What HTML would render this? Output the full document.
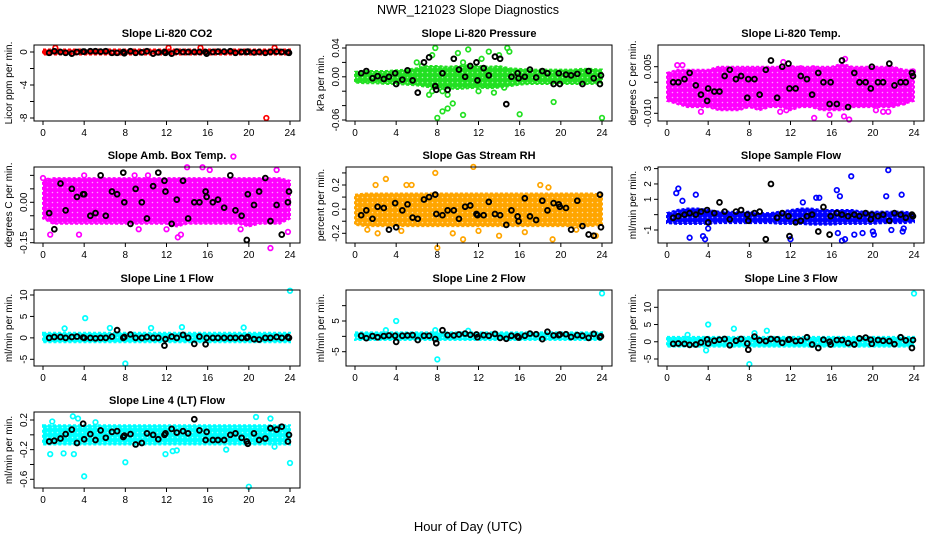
<!DOCTYPE html>
<html><head><meta charset="utf-8"><style>
html,body{margin:0;padding:0;background:#fff;}
svg{display:block;font-family:"Liberation Sans",sans-serif;}
</style></head><body>
<svg id="chart" width="936" height="540" viewBox="0 0 936 540">
<text x="468" y="14" text-anchor="middle" font-size="12.5">NWR_121023  Slope Diagnostics</text>
<text x="468" y="531" text-anchor="middle" font-size="13">Hour of Day (UTC)</text>
</svg>
<script>
const xTicks = [0,4,8,12,16,20,24];
const bandHours = [0,1,2,3,4,5,6,7,8,9,10,11,12,13,14,15,16,17,18,19,20,21,22,23,24];
const blackHours = [0.6,1.1,1.7,2.2,2.8,3.3,3.9,4.0,4.6,5.1,5.6,6.1,6.7,7.2,7.8,7.9,8.5,9.0,9.6,10.1,10.7,11.2,11.8,11.9,12.5,13.0,13.6,14.1,14.7,15.2,15.8,15.9,16.5,17.0,17.6,18.2,18.7,19.3,19.8,19.9,20.5,21.0,21.6,22.1,22.7,23.2,23.8,23.9];

const p1Lo = [-.3,-.3,-.3,-.3,-.3,-.3,-.3,-.3,-.3,-.3,-.3,-.3,-.3,-.3,-.3,-.3,-.3,-.3,-.3,-.3,-.3,-.3,-.3,-.3,-.3];
const p1Hi = [.3,.3,.3,.3,.3,.3,.3,.3,.3,.3,.3,.3,.3,.3,.3,.3,.3,.3,.3,.3,.3,.3,.3,.3,.3];
const p1Out = [[21.7,-8],[1.2,0.5],[12.2,0.5],[15.3,0.5],[22.5,0.5]];
const p1Black = [-0.1,0.1,0,-0.1,-0.2,0,0.05,0.05,0.1,0.1,0.05,0.1,-0.1,-0.1,0,-0.15,0.1,-0.1,-0.05,0.1,-0.2,-0.05,0,-0.1,-0.2,0.05,0,0,0,0,0,-0.2,0,0.05,0.05,0.1,-0.1,0,0,0.05,-0.05,0,-0.1,0,0.05,0,-0.05,-0.1];

const p2Lo = [-.008,-.009,-.009,-.01,-.01,-.011,-.012,-.014,-.016,-.016,-.017,-.016,-.015,-.016,-.015,-.013,-.011,-.01,-.01,-.01,-.01,-.01,-.01,-.01,-.009];
const p2Hi = [.007,.008,.008,.008,.009,.01,.012,.015,.015,.014,.015,.016,.015,.014,.015,.012,.011,.01,.01,.01,.01,.01,.011,.011,.01];
const p2Out = [[7.5,0.03],[7.8,0.04],[7.2,-0.025],[8,-0.057],[8.5,-0.048],[9,-0.044],[9.5,-0.037],[10.5,-0.053],[11,0.038],[9.6,0.025],[10,0.033],[12.3,0.025],[13,0.035],[14,0.03],[14.8,0.04],[15,0.035],[16,-0.052],[19.3,-0.035],[24,-0.057],[6.5,0.015],[7.5,-0.02],[14.5,-0.015],[12,-0.02],[8.5,-0.02],[9,-0.025],[13.5,-0.022],[6,0.02],[10.5,0.02]];
const p2Black = [0.005,0.008,-0.002,0.001,-0.003,0.0,0.005,-0.01,-0.004,0.009,-0.005,-0.022,0.020,0.027,-0.013,-0.018,0.005,-0.018,0.025,0.01,0.0,0.015,0.02,-0.005,0.012,0.002,0.028,0.025,-0.038,0.0,0.005,-0.002,0.0,0.01,-0.001,0.008,0.005,-0.01,0.005,-0.01,0.003,0.002,0.004,-0.010,0.008,-0.002,-0.01,0.002];

const p3Lo = [-.006,-.007,-.008,-.008,-.008,-.009,-.009,-.009,-.008,-.009,-.008,-.008,-.009,-.008,-.008,-.009,-.009,-.009,-.008,-.008,-.008,-.008,-.008,-.007,-.006];
const p3Hi = [.003,.004,.004,.004,.004,.005,.005,.005,.005,.005,.005,.005,.005,.005,.005,.005,.005,.006,.005,.005,.005,.005,.005,.004,.004];
const p3Out = [[11.3,0.0065],[12.2,0.0045],[13,0.0045],[14.2,0.0045],[17.3,0.0075],[23.9,0.0035],[3.3,-0.0095],[11,-0.0095],[11.6,-0.009],[14.3,-0.0115],[15.8,-0.0105],[17.2,-0.011],[17.7,-0.012],[20.3,-0.009],[21,-0.0095],[21.5,-0.0095],[1,0.0055],[1.5,0.0055],[22,-0.006],[23,-0.0065]];
const p3Black = [0.0,0.0,0.001,0.003,-0.001,-0.004,-0.006,-0.002,-0.003,-0.003,0.002,0.004,0.001,0.002,-0.005,0.001,0.001,-0.004,0.004,0.007,-0.005,0.005,0.006,-0.002,-0.002,0.002,0.001,-0.004,0.003,0.0,-0.007,0.0,-0.007,0.007,-0.008,0.003,0.0,0.0,-0.002,0.005,0.0,0.0,0.006,-0.001,0.0,0.0,0.003,0.002];

const p4Lo = [-.06,-.08,-.08,-.08,-.08,-.08,-.08,-.08,-.08,-.08,-.08,-.08,-.08,-.09,-.08,-.08,-.08,-.08,-.08,-.08,-.09,-.08,-.08,-.08,-.06];
const p4Hi = [.08,.09,.09,.09,.09,.09,.09,.09,.09,.09,.09,.09,.09,.09,.09,.09,.09,.09,.09,.09,.09,.09,.09,.09,.08];
const p4Out = [[18.5,0.17],[22.1,-0.17],[13.1,-0.13],[13.4,-0.12],[3.5,-0.12],[0.7,-0.12],[14,0.13],[15.5,0.13],[22.7,0.12],[9.3,-0.1],[19.2,-0.1],[12,-0.1],[4,0.1],[1,-0.07],[0,0.09],[23.8,-0.11],[0.5,0.08],[8.9,0.1],[10.2,0.1],[16.2,0.12]];
const p4Black = [-0.04,-0.1,0.07,-0.03,0.05,0.02,0.03,0.03,-0.05,-0.04,0.1,-0.05,0.04,0.03,0.11,0.0,-0.08,0.05,0.0,-0.06,0.06,0.11,0.08,0.04,-0.08,0.01,0.08,-0.06,0.0,0.0,0.04,0.02,0.0,0.01,-0.02,0.1,-0.03,-0.05,-0.14,0.03,-0.01,0.04,0.09,-0.07,-0.01,-0.12,0.0,0.04];

const p5Lo = [-.13,-.14,-.14,-.14,-.14,-.14,-.14,-.14,-.14,-.14,-.14,-.14,-.14,-.14,-.14,-.14,-.14,-.14,-.14,-.14,-.14,-.14,-.14,-.14,-.13];
const p5Hi = [.12,.13,.13,.13,.13,.13,.13,.13,.13,.13,.13,.13,.13,.13,.13,.13,.13,.13,.13,.13,.13,.13,.13,.13,.12];
const p5Out = [[7.8,0.3],[11.5,0.35],[3,0.25],[8,-0.32],[10.5,-0.25],[19.2,-0.25],[2.2,-0.2],[1.2,-0.17],[23.4,-0.22],[5,0.2],[18,0.2],[18.8,0.18],[14,-0.22],[9.5,-0.2],[4.5,-0.18],[2,0.2],[5.5,0.2],[12,-0.18],[16.5,-0.19],[21.5,-0.17]];
const p5Black = [-0.05,-0.01,-0.08,0.02,0.01,-0.17,0.05,-0.15,-0.01,0.04,-0.07,-0.08,0.08,0.1,0.12,-0.04,-0.05,-0.01,-0.01,-0.08,0.02,0.03,-0.04,-0.05,-0.05,0.06,-0.04,-0.05,-0.13,-0.01,-0.06,-0.1,0.09,-0.06,-0.09,0.07,-0.01,0.05,0.04,0.02,0.01,-0.17,0.07,-0.14,-0.21,-0.22,0.12,-0.15];

const p6Lo = [-.55,-.6,-.6,-.6,-.6,-.55,-.55,-.55,-.55,-.55,-.55,-.6,-.6,-.6,-.65,-.65,-.65,-.6,-.6,-.6,-.6,-.55,-.55,-.55,-.5];
const p6Hi = [.1,.3,.4,.4,.3,.2,.2,.15,.2,.1,.1,.2,.3,.4,.4,.3,.3,.3,.3,.2,.2,.2,.2,.2,.1];
const p6Out = [[0.9,1.4],[1.1,1.7],[2.8,1.3],[21.5,2.9],[17.9,2.5],[16.5,1.6],[16.8,1.2],[14.5,1.1],[14.8,1.1],[22.8,1.3],[21.3,1.2],[2.2,-1.5],[3.5,-1.4],[3.7,-1.6],[12,-1.6],[17.3,-1.6],[17,-1.7],[16.6,-1.2],[18.2,-1.3],[19,-1.2],[20,-1.1],[20.1,-1.3],[21.8,-1],[22.9,-1.1],[23,-0.9],[4,-0.9],[1.5,0.9],[13.2,0.8]];
const p6Black = [-0.2,-0.1,0.0,0.1,0.0,0.2,0.3,-0.5,0.1,0.8,0.2,-0.3,0.2,0.3,0.0,-0.4,0.1,0.2,-1.6,2.0,-0.2,0.1,-0.1,-1.4,-0.5,-0.4,-0.1,0.0,-1.1,0.5,-1.3,-0.1,0.1,0.0,-0.1,0.0,-0.1,0.1,-0.3,0.0,-0.1,0.0,-0.4,0.1,0.0,-0.2,0.0,-0.1];

const p7Lo = [-1,-1,-1,-1,-1,-1,-1,-1,-1,-1,-1,-1,-1,-1,-1,-1,-1,-1,-1,-1,-1,-1,-1,-1,-1];
const p7Hi = [1.2,1.2,1.2,1.2,1.2,1.2,1.2,1.2,1.2,1.2,1.2,1.2,1.2,1.2,1.2,1.2,1.2,1.2,1.2,1.2,1.2,1.2,1.2,1.2,1.2];
const p7Out = [[4.1,4.6],[8,-6],[24,11],[13.5,2.5],[19.5,2.4],[2.1,2.2],[6.5,2.3],[10.5,2.3]];
const p7Black = [0,0.2,0.2,0,0.2,0.3,0.1,0,0,-0.1,0,0,0.3,1.8,0,0.2,0.8,0,0,0.2,0,0,-1.8,-0.3,0.3,0,0.7,0,-1.4,0.3,-1.5,0,0,0,0,0,0,0,0,0.2,-0.3,-0.4,0,0,0.2,0,0.2,0];

const p8Lo = [-1.2,-1.2,-1.2,-1.2,-1.2,-1.2,-1.2,-1.2,-1.2,-1.2,-1.2,-1.2,-1.2,-1.2,-1.2,-1.2,-1.2,-1.2,-1.2,-1.2,-1.2,-1.2,-1.2,-1.2,-1.2];
const p8Hi = [1.3,1.3,1.3,1.3,1.3,1.3,1.3,1.3,1.3,1.3,1.3,1.3,1.3,1.3,1.3,1.3,1.3,1.3,1.3,1.3,1.3,1.3,1.3,1.3,1.3];
const p8Out = [[4,5],[8,-7.5],[24,14],[3,2],[7.8,2],[11,1.8]];
const p8Black = [0.2,-0.6,0.1,-0.3,0.1,0.3,0.2,-1.8,0.2,0.3,0.4,-1.2,0.2,0.2,-0.9,-2.2,2,0.4,0.3,0.6,0.9,0.5,0.6,-0.3,0.4,0.2,0.8,-0.5,-0.8,0.2,0.0,-0.4,0.2,0.9,0.7,-0.9,1.5,0.3,0.4,0.6,0.7,-0.2,0.4,0.2,-0.5,0.8,-0.3,0.0];

const p9Lo = [-1.4,-1.4,-1.4,-1.4,-1.4,-1.4,-1.4,-1.4,-1.4,-1.4,-1.4,-1.4,-1.4,-1.4,-1.4,-1.4,-1.4,-1.4,-1.4,-1.4,-1.4,-1.4,-1.4,-1.4,-1.4];
const p9Hi = [1.4,1.4,1.4,1.4,1.4,1.4,1.4,1.4,1.4,1.4,1.4,1.4,1.4,1.4,1.4,1.4,1.4,1.4,1.4,1.4,1.4,1.4,1.4,1.4,1.4];
const p9Out = [[4,5],[8,-6.5],[24,14],[6.5,3.8],[9.7,3.2],[8.5,2.5],[3.8,-2.5],[2,2]];
const p9Black = [-0.6,-0.5,-0.6,-0.9,-0.8,-0.2,0.7,-0.5,0.3,0.6,0.8,-1.0,0.3,0.8,-0.5,-2.3,1.5,0.4,0.2,0.8,0.7,-0.3,0.6,0.7,0.2,0.3,1.3,-0.8,-1.8,0.6,0.0,-0.8,0.5,0.5,-0.4,-0.8,1.0,1.2,0.6,-0.6,0.5,0.3,0.2,-0.7,1.3,0.4,-1.8,0.5];

const p10Lo = [-.13,-.13,-.13,-.13,-.13,-.13,-.13,-.13,-.13,-.13,-.13,-.13,-.13,-.13,-.13,-.13,-.13,-.13,-.13,-.13,-.13,-.13,-.13,-.13,-.13];
const p10Hi = [.13,.13,.13,.13,.13,.13,.13,.13,.13,.13,.13,.13,.13,.13,.13,.13,.13,.13,.13,.13,.13,.13,.13,.13,.13];
const p10Out = [[4,-0.56],[20,-0.7],[24,-0.38],[8,-0.37],[2.9,0.25],[20.7,0.24],[22.1,0.22],[3.4,0.22],[0.7,-0.26],[2,-0.25],[3,-0.26],[11.9,-0.26],[12.6,-0.22],[13,-0.21],[17.8,-0.2],[22.5,-0.16],[0.9,0.18],[5.1,0.17]];
const p10Black = [-0.09,-0.08,-0.05,0.01,0.07,-0.11,0.15,-0.06,0.01,-0.07,0.06,-0.04,0.04,0.05,-0.03,-0.01,0.01,-0.13,-0.11,0.02,0.0,-0.06,0.0,0.02,0.08,0.03,0.05,0.02,0.21,0.06,-0.07,0.04,-0.07,-0.07,-0.07,0.0,0.02,-0.04,-0.09,-0.12,0.02,-0.07,-0.05,0.09,0.07,0.11,-0.09,0.0];

const panels = [
 {id:'li820-co2',title:'Slope Li-820 CO2',col:0,row:0,r:[0,52,-8,118],ticks:[-8,-6,-4,-2,0],labels:{'0':'0','-4':'-4','-8':'-8'},ylab:'Licor ppm per min.',color:'#ff0000',lo:p1Lo,hi:p1Hi,out:p1Out,black:p1Black},
 {id:'li820-pressure',title:'Slope Li-820 Pressure',col:1,row:0,r:[0.04,48,-0.06,120],ticks:[-0.06,-0.04,-0.02,0,0.02,0.04],labels:{'0.04':'0.04','0':'0.00','-0.06':'-0.06'},ylab:'kPa per min.',color:'#22e022',lo:p2Lo,hi:p2Hi,out:p2Out,black:p2Black},
 {id:'li820-temp',title:'Slope Li-820 Temp.',col:2,row:0,r:[0.005,66.7,-0.01,113.3],ticks:[-0.01,-0.005,0,0.005],labels:{'0.005':'0.005','-0.01':'-0.010'},ylab:'degrees C per min.',color:'#ff00ff',lo:p3Lo,hi:p3Hi,out:p3Out,black:p3Black},
 {id:'amb-box-temp',title:'Slope Amb. Box Temp.',col:0,row:1,r:[0,202.3,-0.15,242.7],ticks:[-0.15,-0.1,-0.05,0,0.05,0.1],labels:{'0':'0.00','-0.15':'-0.15'},ylab:'degrees C per min.',color:'#ff00ff',lo:p4Lo,hi:p4Hi,out:p4Out,black:p4Black},
 {id:'gas-stream-rh',title:'Slope Gas Stream RH',col:1,row:1,r:[0.2,185,-0.2,233.3],ticks:[-0.2,-0.1,0,0.1,0.2,0.3],labels:{'0.2':'0.2','0':'0.0','-0.2':'-0.2'},ylab:'percent per min.',color:'#ffa500',lo:p5Lo,hi:p5Hi,out:p5Out,black:p5Black},
 {id:'sample-flow',title:'Slope Sample Flow',col:2,row:1,r:[1,199.3,-1,230],ticks:[-1,0,1,2,3],labels:{'3':'3','2':'2','1':'1','-1':'-1'},ylab:'ml/min per min.',color:'#0000ff',lo:p6Lo,hi:p6Hi,out:p6Out,black:p6Black},
 {id:'line1-flow',title:'Slope Line 1 Flow',col:0,row:2,r:[10,295,-5,359.3],ticks:[-5,0,5,10],labels:{'10':'10','5':'5','0':'0','-5':'-5'},ylab:'ml/min per min.',color:'#00ffff',lo:p7Lo,hi:p7Hi,out:p7Out,black:p7Black},
 {id:'line2-flow',title:'Slope Line 2 Flow',col:1,row:2,r:[5,321,-5,351.7],ticks:[-5,0,5,10],labels:{'5':'5','-5':'-5'},ylab:'ml/min per min.',color:'#00ffff',lo:p8Lo,hi:p8Hi,out:p8Out,black:p8Black},
 {id:'line3-flow',title:'Slope Line 3 Flow',col:2,row:2,r:[10,307.3,-5,359],ticks:[-5,0,5,10],labels:{'10':'10','5':'5','0':'0','-5':'-5'},ylab:'ml/min per min.',color:'#00ffff',lo:p9Lo,hi:p9Hi,out:p9Out,black:p9Black},
 {id:'line4-flow',title:'Slope Line 4 (LT) Flow',col:0,row:3,r:[0.2,420,-0.6,479.3],ticks:[-0.6,-0.4,-0.2,0,0.2],labels:{'0.2':'0.2','-0.2':'-0.2','-0.6':'-0.6'},ylab:'ml/min per min.',color:'#00ffff',lo:p10Lo,hi:p10Hi,out:p10Out,black:p10Black}
];
const colLeft=[34,346,658], rowTop=[45,167,290,412], W=266, H=76;
const svg=document.getElementById('chart'), NS='http://www.w3.org/2000/svg';
function mk(tag,attrs,parent){const e=document.createElementNS(NS,tag);for(const k in attrs)e.setAttribute(k,attrs[k]);parent.appendChild(e);return e;}
const defs=mk('defs',{},svg);

panels.forEach(p=>{
  const L=colLeft[p.col], T=rowTop[p.row];
  const xs=h=>L+9+h*(247/24);
  const ys=v=>p.r[1]+(v-p.r[0])*(p.r[3]-p.r[1])/(p.r[2]-p.r[0]);
  const pid='pat-'+p.id;
  const pat=mk('pattern',{id:pid,width:5,height:5,patternUnits:'userSpaceOnUse'},defs);
  mk('rect',{x:0,y:0,width:5,height:5,fill:p.color},pat);
  mk('circle',{cx:2.5,cy:2.5,r:0.8,fill:'#fff','fill-opacity':'0.6'},pat);
  const g=mk('g',{},svg);
  
  
  const cid='clip-'+p.id;
  const cp=mk('clipPath',{id:cid},g); mk('rect',{x:L,y:T,width:W,height:H},cp);
  const t=mk('text',{x:L+W/2,y:T-8,'text-anchor':'middle','font-size':'11','font-weight':'bold'},g);
  t.textContent=p.title;
  
  
  let d='';
  bandHours.forEach((h,i)=>{d+=(i?'L':'M')+xs(h).toFixed(1)+','+ys(p.hi[i]).toFixed(1);});
  for(let i=bandHours.length-1;i>=0;i--){d+='L'+xs(bandHours[i]).toFixed(1)+','+ys(p.lo[i]).toFixed(1);}
  const band=mk('path',{d:d+'Z',fill:'url(#'+pid+')',stroke:p.color,'stroke-width':'2','stroke-dasharray':'3 2','clip-path':'url(#'+cid+')'},g);
  
  
  p.out.forEach(o=>{
    const c=mk('circle',{cx:xs(o[0]),cy:ys(o[1]),r:2.3,fill:'none',stroke:p.color,'stroke-width':'1.7'},g);
    
    
  });
  p.black.forEach((v,i)=>{
    const c=mk('circle',{cx:xs(blackHours[i]),cy:ys(v),r:2.4,fill:'none',stroke:'#000','stroke-width':'1.9'},g);
    
    
  });
  const box=mk('rect',{x:L,y:T,width:W,height:H,fill:'none',stroke:'#000','stroke-width':'1'},g);
  
  
  xTicks.forEach(h=>{
    mk('line',{x1:xs(h),x2:xs(h),y1:T+H,y2:T+H+4,stroke:'#000'},g);
    const tl=mk('text',{x:xs(h),y:T+H+15,'text-anchor':'middle','font-size':'10'},g);
    tl.textContent=h;
    
    
  });
  p.ticks.forEach(v=>{
    const y=ys(v);
    mk('line',{x1:L-4,x2:L,y1:y,y2:y,stroke:'#000'},g);
    const lab=p.labels[String(v)];
    if(lab!==undefined){
      const tl=mk('text',{x:L-7,y:y,'text-anchor':'middle','font-size':'10',transform:'rotate(-90 '+(L-7)+' '+y+')'},g);
      tl.textContent=lab;
      
      
    }
  });
  const yc=T+H/2, yx=L-22;
  const yl=mk('text',{x:yx,y:yc,'text-anchor':'middle','font-size':'10',transform:'rotate(-90 '+yx+' '+yc+')'},g);
  yl.textContent=p.ylab;
  
  
});
</script>
</body></html>
